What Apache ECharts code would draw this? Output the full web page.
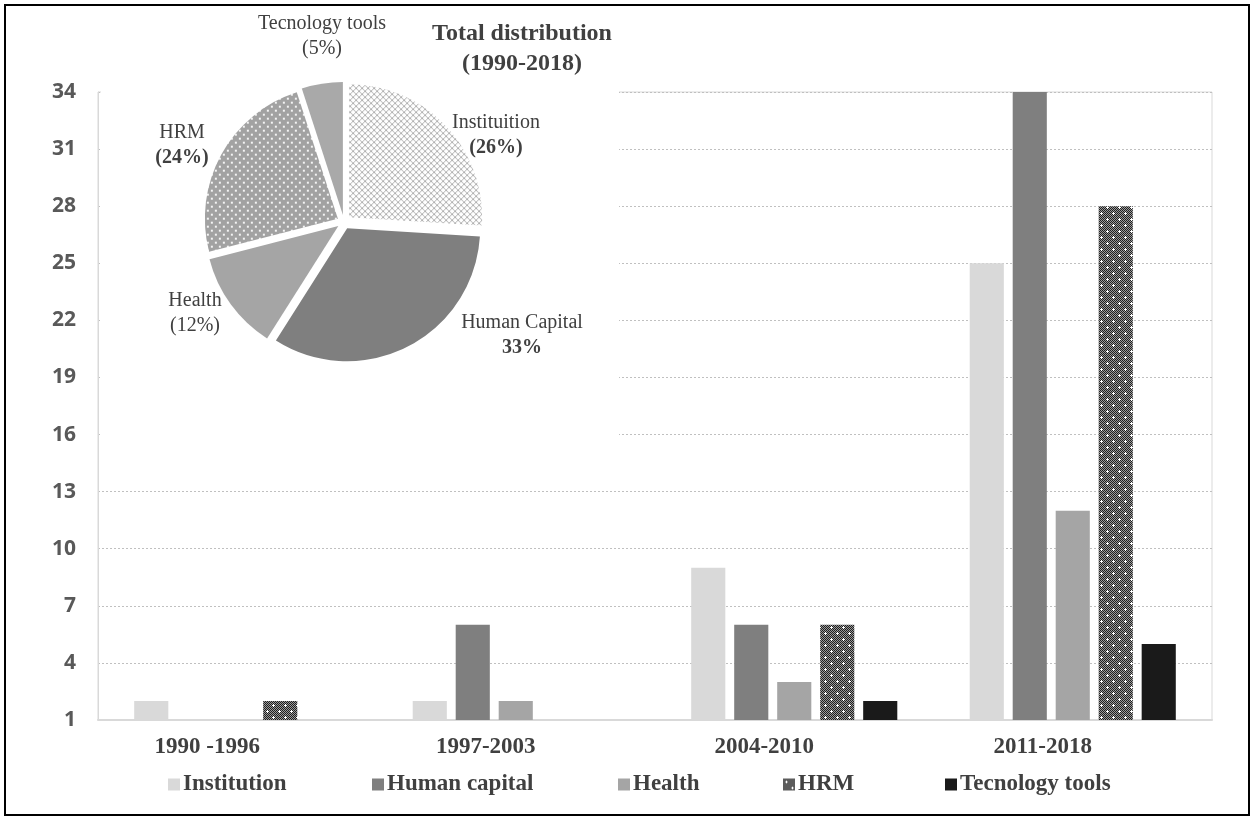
<!DOCTYPE html>
<html>
<head>
<meta charset="utf-8">
<script src="https://cdn.jsdelivr.net/npm/echarts@6/dist/echarts.min.js"></script>
<style>
  html, body { margin: 0; padding: 0; background: #fff; }
  #chart { width: 1255px; height: 821px; }
</style>
</head>
<body>
<div id="chart"></div>
<script>
// Publications per period and topic
const categories = ['1990 -1996', '1997-2003', '2004-2010', '2011-2018'];
const institution = [2, 2, 9, 25];
const humanCapital = [0, 6, 6, 34];
const health = [0, 2, 3, 12];
const hrm = [2, 0, 6, 28];
const techTools = [0, 0, 2, 5];
const seriesNames = ['Institution', 'Human capital', 'Health', 'HRM', 'Tecnology tools'];

// Value axis range and step
const yMin = 1;
const yMax = 34;
const yStep = 3;

// Overall shares shown in the inset pie
const pieNames = ['Instituition', 'Human Capital', 'Health', 'HRM', 'Tecnology tools'];
const pieShares = [26, 33, 12, 24, 5];

const SERIF = '"Liberation Serif", "Times New Roman", serif';
const TEXT = '#404040';

function makePattern(size, draw) {
  const c = document.createElement('canvas');
  c.width = size; c.height = size;
  const ctx = c.getContext('2d');
  draw(ctx, size);
  return { image: c, repeat: 'repeat' };
}

// dark dithered fill with white sparkles (HRM bars)
const hrmBarFill = makePattern(12, (ctx, s) => {
  for (let y = 0; y < s; y++) {
    for (let x = 0; x < s; x++) {
      ctx.fillStyle = (x + y) % 2 === 0 ? '#1e1e1e' : '#9a9a9a';
      ctx.fillRect(x, y, 1, 1);
    }
  }
  ctx.fillStyle = '#ffffff';
  [[3, 3], [9, 9]].forEach(([cx, cy]) => {
    ctx.fillRect(cx - 1, cy, 3, 1);
    ctx.fillRect(cx, cy - 1, 1, 3);
  });
});

// light crosshatch (Institution slice)
const instPieFill = makePattern(6, (ctx, s) => {
  ctx.fillStyle = '#ffffff';
  ctx.fillRect(0, 0, s, s);
  ctx.strokeStyle = '#b0b0b0';
  ctx.lineWidth = 1;
  ctx.beginPath();
  ctx.moveTo(0, 0); ctx.lineTo(s, s);
  ctx.moveTo(s, 0); ctx.lineTo(0, s);
  ctx.stroke();
});

// grey with white dots (HRM slice)
const hrmPieFill = makePattern(8, (ctx, s) => {
  ctx.fillStyle = '#a2a2a2';
  ctx.fillRect(0, 0, s, s);
  ctx.fillStyle = '#f4f4f4';
  ctx.fillRect(1, 1, 2, 2);
  ctx.fillRect(5, 5, 2, 2);
});

const barColors = ['#d9d9d9', '#7f7f7f', '#a5a5a5', hrmBarFill, '#1a1a1a'];
const barData = [institution, humanCapital, health, hrm, techTools];
const pieColors = [instPieFill, '#7f7f7f', '#a5a5a5', hrmPieFill, '#a9a9a9'];

// pie label placement (centre of the two-line label) and styling
const pieLabelPos = [[496, 135], [522, 335], [195, 313], [182, 145], [322, 36]];
const pieBoldPct = [true, true, false, true, false];
const pieParen = [true, false, true, true, true];
const PIE_FONT = 20;
const PIE_LINE = 25;

// legend icon x positions
const legendLeft = [163, 367, 613, 778, 940];

const barSeries = seriesNames.map((name, i) => ({
  name: name,
  type: 'bar',
  data: barData[i],
  barGap: '26%',
  barCategoryGap: '26%',
  itemStyle: { color: barColors[i] },
  emphasis: { disabled: true },
  z: 2
}));

const pieSeries = {
  type: 'pie',
  z: 10,
  center: [344, 222],
  radius: 133,
  startAngle: 90,
  selectedMode: 'multiple',
  selectedOffset: 7,
  emphasis: { disabled: true },
  label: { show: false },
  labelLine: { show: false },
  data: pieNames.map((n, i) => ({
    name: n,
    value: pieShares[i],
    selected: true,
    itemStyle: { color: pieColors[i] }
  }))
};

// two-line text labels for each slice, built from the same shares
const pieLabels = [];
pieNames.forEach((n, i) => {
  const [cx, cy] = pieLabelPos[i];
  const pct = pieParen[i] ? '(' + pieShares[i] + '%)' : pieShares[i] + '%';
  pieLabels.push({
    type: 'text', z: 20, silent: true,
    style: {
      text: n, x: cx, y: cy - PIE_LINE / 2, textAlign: 'center', textVerticalAlign: 'middle',
      font: 'normal ' + PIE_FONT + 'px ' + SERIF, fill: TEXT
    }
  });
  pieLabels.push({
    type: 'text', z: 20, silent: true,
    style: {
      text: pct, x: cx, y: cy + PIE_LINE / 2, textAlign: 'center', textVerticalAlign: 'middle',
      font: (pieBoldPct[i] ? 'bold ' : 'normal ') + PIE_FONT + 'px ' + SERIF, fill: TEXT
    }
  });
});

const legends = seriesNames.map((name, i) => ({
  data: [name],
  left: legendLeft[i], top: 768,
  icon: 'rect', itemWidth: 12, itemHeight: 12, itemGap: 0,
  textStyle: { fontFamily: SERIF, fontWeight: 'bold', fontSize: 23, color: TEXT, padding: [0, 0, 0, -2] },
  selectedMode: false
}));

const chart = echarts.init(document.getElementById('chart'), null, { renderer: 'canvas' });
chart.setOption({
  animation: false,
  backgroundColor: '#ffffff',
  grid: {
    left: 98, right: 43, top: 92, bottom: 101,
    show: true, borderColor: '#d9d9d9', borderWidth: 1, backgroundColor: 'transparent'
  },
  xAxis: {
    type: 'category',
    data: categories,
    axisLine: { show: true, lineStyle: { color: '#d9d9d9', width: 2 } },
    axisTick: { show: false },
    axisLabel: {
      fontFamily: SERIF, fontWeight: 'bold', fontSize: 23, color: TEXT,
      margin: 16, padding: [0, 60, 0, 0]
    }
  },
  yAxis: {
    type: 'value',
    min: yMin, max: yMax, interval: yStep,
    axisLine: { show: true, lineStyle: { color: '#d9d9d9', width: 1 } },
    axisTick: { show: false },
    axisLabel: {
      fontFamily: '"Open Sans", sans-serif', fontWeight: 'bold', fontSize: 21,
      color: '#595959', margin: 22
    },
    splitLine: { show: true, lineStyle: { color: '#c0c0c0', type: [2, 2], width: 1 } }
  },
  legend: legends,
  title: {
    text: 'Total distribution\n(1990-2018)',
    left: 517, top: 14, textAlign: 'center',
    textStyle: { fontFamily: SERIF, fontWeight: 'bold', fontSize: 24, color: TEXT, lineHeight: 30 }
  },
  graphic: [
    { type: 'rect', z: 1, silent: true, shape: { x: 101, y: 10, width: 518, height: 450 }, style: { fill: '#ffffff' } },
    { type: 'rect', z: 100, silent: true, shape: { x: 5, y: 5, width: 1244, height: 810 }, style: { fill: 'none', stroke: '#000000', lineWidth: 2 } }
  ].concat(pieLabels),
  series: barSeries.concat([pieSeries])
});
</script>
</body>
</html>
